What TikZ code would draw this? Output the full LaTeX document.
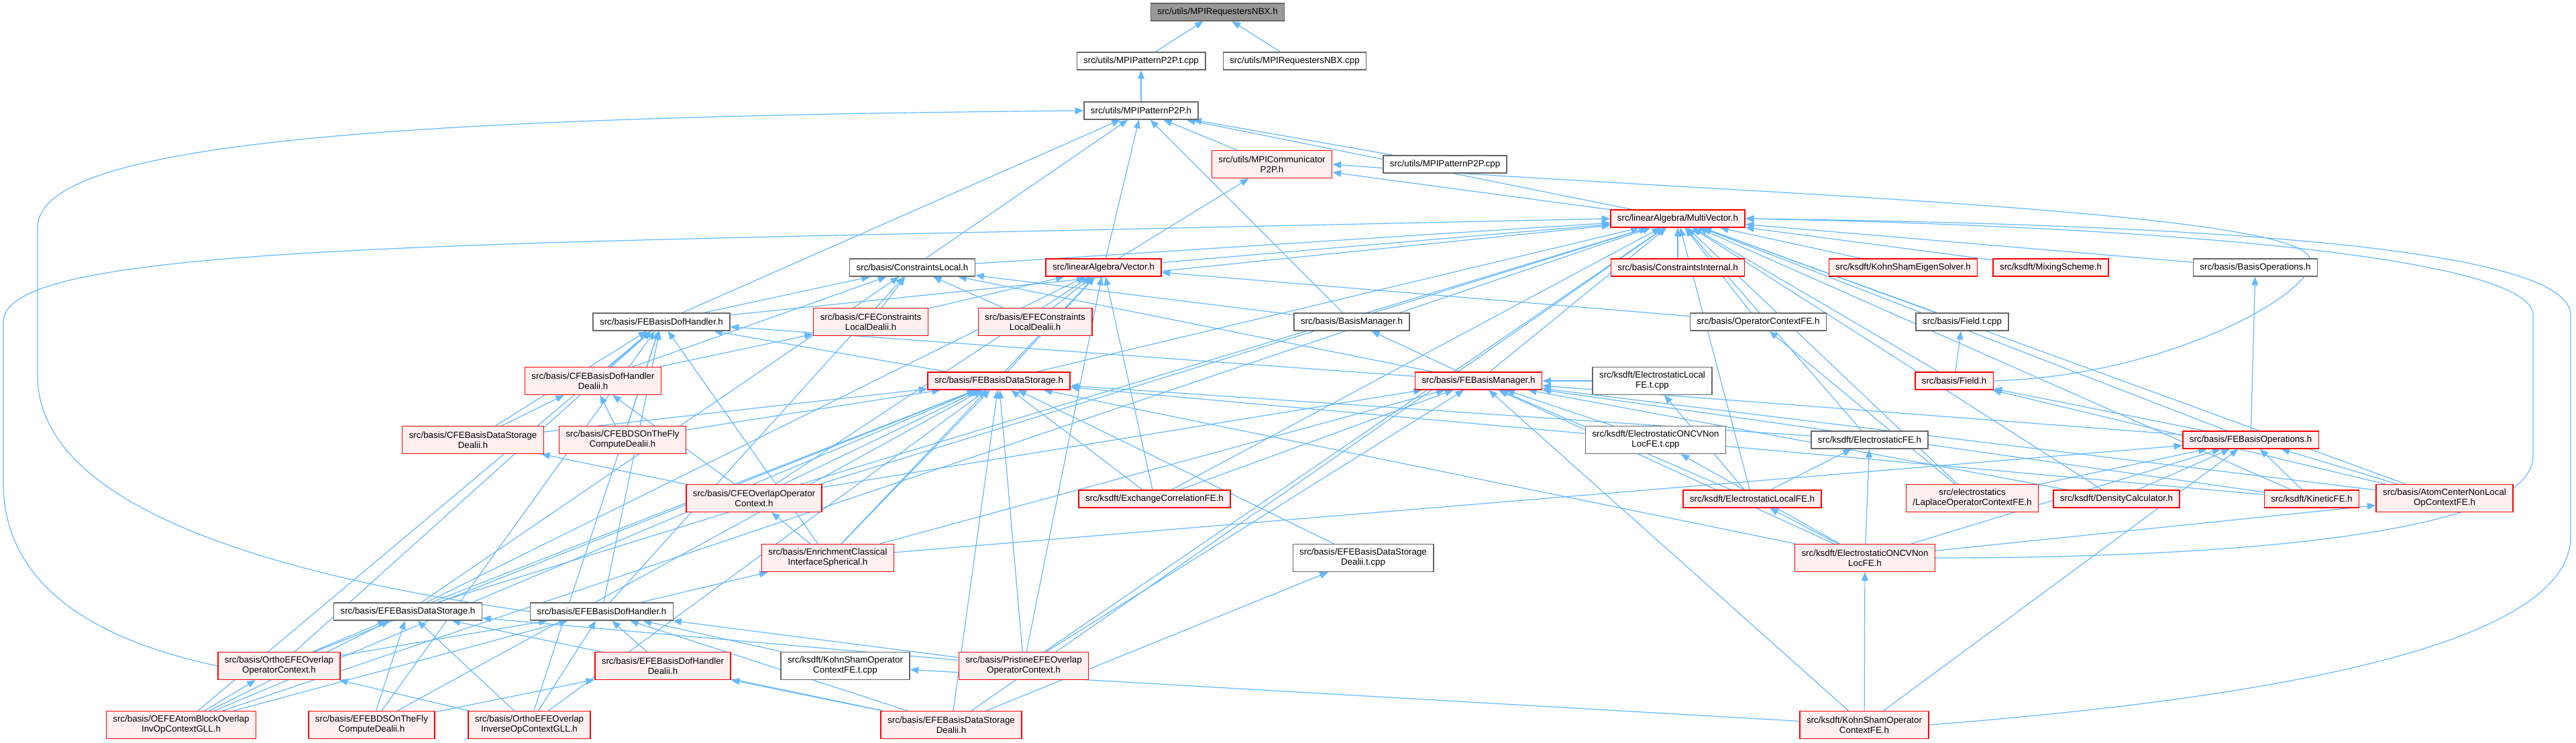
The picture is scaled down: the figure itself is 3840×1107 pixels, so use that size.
\documentclass[tikz,border=0pt]{standalone}
\usepackage{fontspec}
\newfontfamily\doxfont{Liberation Sans}
\usetikzlibrary{arrows.meta}

\definecolor{edgeblue}{HTML}{63B8FF}
\definecolor{nodegray}{HTML}{666666}
\definecolor{rootgray}{HTML}{999999}
\definecolor{truncfill}{HTML}{FFF0F0}

\pgfdeclarelayer{background}
\pgfsetlayers{background,main}

\begin{document}
\begin{tikzpicture}[
    x=0.75pt, y=-0.75pt,
    node font=\doxfont\fontsize{10}{11.25}\selectfont,
    >={Triangle[length=9.5pt,width=7.5pt]},
    file/.style={draw=nodegray, fill=white, line width=1pt, inner xsep=7.5pt, inner ysep=0pt, minimum height=19.5pt, align=center},
    root/.style={file, fill=rootgray},
    trunc/.style={file, draw=red, fill=truncfill},
    tall/.style={minimum height=30.75pt},
    inc/.style={->, draw=edgeblue, line width=0.9pt},
]
\useasboundingbox (0,0) rectangle (3840,1107);

% utils
\node[root] (nbx) at (1815,18) {src/utils/MPIRequestersNBX.h};
\node[file] (p2pt) at (1701,91) {src/utils/MPIPatternP2P.t.cpp};
\node[file] (nbxcpp) at (1930,91) {src/utils/MPIRequestersNBX.cpp};
\node[file] (p2p) at (1701,165) {src/utils/MPIPatternP2P.h};
\node[trunc, tall] (comm) at (1896,245) {src/utils/MPICommunicator\\P2P.h};
\node[file] (p2pcpp) at (2154,245) {src/utils/MPIPatternP2P.cpp};
\node[trunc] (mv) at (2501,326) {src/linearAlgebra/MultiVector.h};

% row of ConstraintsLocal
\node[file] (cl) at (1360,399) {src/basis/ConstraintsLocal.h};
\node[trunc] (vec) at (1645,399) {src/linearAlgebra/Vector.h};
\node[trunc] (ci) at (2501,399) {src/basis/ConstraintsInternal.h};
\node[trunc] (kses) at (2837,399) {src/ksdft/KohnShamEigenSolver.h};
\node[trunc] (mix) at (3057,399) {src/ksdft/MixingScheme.h};
\node[file] (bops) at (3362,399) {src/basis/BasisOperations.h};

% row of FEBasisDofHandler
\node[file] (dofh) at (986,480) {src/basis/FEBasisDofHandler.h};
\node[trunc, tall] (cfecl) at (1298,480) {src/basis/CFEConstraints\\LocalDealii.h};
\node[trunc, tall] (efecl) at (1543,480) {src/basis/EFEConstraints\\LocalDealii.h};
\node[file] (bm) at (2015,480) {src/basis/BasisManager.h};
\node[file] (opctx) at (2621,480) {src/basis/OperatorContextFE.h};
\node[file] (fieldt) at (2925,480) {src/basis/Field.t.cpp};

% row of FEBasisDataStorage
\node[trunc, tall] (cfedofh) at (884,568) {src/basis/CFEBasisDofHandler\\Dealii.h};
\node[trunc] (ds) at (1489,568) {src/basis/FEBasisDataStorage.h};
\node[trunc] (febm) at (2204,568) {src/basis/FEBasisManager.h};
\node[file, tall] (eslt) at (2463,568) {src/ksdft/ElectrostaticLocal\\FE.t.cpp};
\node[trunc] (field) at (2913,568) {src/basis/Field.h};

% row of FEBasisOperations
\node[trunc, tall] (cfeds) at (705,656) {src/basis/CFEBasisDataStorage\\Dealii.h};
\node[trunc, tall] (cfebds) at (928,656) {src/basis/CFEBDSOnTheFly\\ComputeDealii.h};
\node[file, tall] (oncvt) at (2468,656) {src/ksdft/ElectrostaticONCVNon\\LocFE.t.cpp};
\node[file] (es) at (2787,656) {src/ksdft/ElectrostaticFE.h};
\node[trunc] (feops) at (3355,656) {src/basis/FEBasisOperations.h};

% row of operator contexts
\node[trunc, tall] (cfeov) at (1124,743) {src/basis/CFEOverlapOperator\\Context.h};
\node[trunc] (xc) at (1721,744) {src/ksdft/ExchangeCorrelationFE.h};
\node[trunc] (esl) at (2612,744) {src/ksdft/ElectrostaticLocalFE.h};
\node[trunc, tall] (lap) at (2940,743) {src/electrostatics\\/LaplaceOperatorContextFE.h};
\node[trunc] (dens) at (3155,744) {src/ksdft/DensityCalculator.h};
\node[trunc] (kin) at (3446,744) {src/ksdft/KineticFE.h};
\node[trunc, tall] (acnl) at (3644,743) {src/basis/AtomCenterNonLocal\\OpContextFE.h};

% enrichment row
\node[trunc, tall] (ecis) at (1234,832) {src/basis/EnrichmentClassical\\InterfaceSpherical.h};
\node[file, tall] (efedst) at (2032,832) {src/basis/EFEBasisDataStorage\\Dealii.t.cpp};
\node[trunc, tall] (oncv) at (2780,832) {src/ksdft/ElectrostaticONCVNon\\LocFE.h};

% EFE rows
\node[file] (efeds) at (608,912) {src/basis/EFEBasisDataStorage.h};
\node[file] (efedofh) at (897,912) {src/basis/EFEBasisDofHandler.h};
\node[trunc, tall] (ooc) at (416,993) {src/basis/OrthoEFEOverlap\\OperatorContext.h};
\node[trunc, tall] (efedofhd) at (988,993) {src/basis/EFEBasisDofHandler\\Dealii.h};
\node[file, tall] (ksot) at (1260,993) {src/ksdft/KohnShamOperator\\ContextFE.t.cpp};
\node[trunc, tall] (peoc) at (1526,993) {src/basis/PristineEFEOverlap\\OperatorContext.h};
\node[trunc, tall] (oefe) at (270,1081) {src/basis/OEFEAtomBlockOverlap\\InvOpContextGLL.h};
\node[trunc, tall] (efebds) at (554,1081) {src/basis/EFEBDSOnTheFly\\ComputeDealii.h};
\node[trunc, tall] (ooic) at (789,1081) {src/basis/OrthoEFEOverlap\\InverseOpContextGLL.h};
\node[trunc, tall] (efedsd) at (1418,1081) {src/basis/EFEBasisDataStorage\\Dealii.h};
\node[trunc, tall] (kso) at (2779,1081) {src/ksdft/KohnShamOperator\\ContextFE.h};

\begin{pgfonlayer}{background}
% utils includes
\draw[inc] (p2pt) -- (nbx);
\draw[inc] (nbxcpp) -- (nbx);
\draw[inc] (p2p) -- (p2pt);
\foreach \c in {comm,p2pcpp,mv,vec,cl,dofh,bm} \draw[inc] (\c) -- (p2p);
\foreach \c in {mv,vec} \draw[inc] (\c) -- (comm);
\draw[inc] (efedofh.west) .. controls (420,860) and (56,760) .. (56,560) -- (56,340) .. controls (56,220) and (500,175) .. (p2p.west);
\draw[inc] (field.east) .. controls (3250,560) and (3480,420) .. (3440,380) .. controls (3380,310) and (2500,285) .. (comm.east);

% MultiVector
\foreach \c in {cl,vec,ci,kses,mix,bops,opctx,fieldt,field,es,feops,cfeov,xc,esl,lap,dens,kin,acnl,ds,febm,dofh,peoc,oefe,efedsd,efeds} \draw[inc] (\c) -- (mv);
\draw[inc] (ooc.west) .. controls (120,950) and (5,860) .. (5,720) -- (5,480) .. controls (5,390) and (400,370) .. (1200,352) -- (mv.west);
\draw[inc] (kso.east) .. controls (3400,1040) and (3832,960) .. (3832,800) -- (3832,470) .. controls (3832,370) and (3300,335) .. (mv.east);
\draw[inc] (oncv.east) .. controls (3300,832) and (3776,800) .. (3776,680) -- (3776,470) .. controls (3776,390) and (3300,340) .. (mv.east);

% basis headers
\foreach \c in {dofh,cfecl,efecl,bm,cfedofh,febm,efedofh,efeds} \draw[inc] (\c) -- (cl);
\foreach \c in {cfecl,efecl,opctx,cfeov,xc,ecis,peoc,ds,efeds} \draw[inc] (\c) -- (vec);
\foreach \c in {cfedofh,ds,febm,cfeds,cfebds,efedofh,ooc,oefe,efebds,ooic,ecis} \draw[inc] (\c) -- (dofh);
\draw[inc] (cfedofh) -- (cfecl);
\draw[inc] (febm) -- (bm);
\draw[inc] (field) -- (fieldt);
\foreach \c in {cfeds,cfebds,cfeov} \draw[inc] (\c) -- (cfedofh);
\foreach \c in {cfeds,cfebds,cfeov,xc,ecis,efeds,ooc,peoc,oefe,efebds,ooic,efedsd,es,oncv,efedst,kin} \draw[inc] (\c) -- (ds);
\foreach \c in {esl,cfeov,xc,dens,kin,acnl,kso,oncvt,feops,ecis,peoc,oncv,eslt} \draw[inc] (\c) -- (febm);
\draw[inc] (esl) -- (eslt);
\foreach \c in {feops,acnl} \draw[inc] (\c) -- (field);
\draw[inc] (oncv) -- (oncvt);
\foreach \c in {esl,oncv} \draw[inc] (\c) -- (es);
\draw[inc] (feops) -- (bops);
\foreach \c in {lap,dens,kin,acnl,ecis,oncv,kso} \draw[inc] (\c) -- (feops);
\draw[inc] (ecis) -- (cfeov);
\draw[inc] (cfeov) -- (cfeds);
\draw[inc] (lap) -- (opctx);
\draw[inc] (oncv) -- (esl);
\draw[inc] (oncv) -- (acnl);
\draw[inc] (efedofh) -- (ecis);
\draw[inc] (efedsd) -- (efedst);
\draw[inc] (kso) -- (oncv);

% EFE headers
\foreach \c in {ooc,oefe,efebds,ooic,peoc,efedsd} \draw[inc] (\c) -- (efeds);
\foreach \c in {ooc,efedofhd,ksot,peoc,oefe,ooic,efedsd} \draw[inc] (\c) -- (efedofh);
\foreach \c in {oefe,ooic} \draw[inc] (\c) -- (ooc);
\foreach \c in {efebds,efedsd} \draw[inc] (\c) -- (efedofhd);
\draw[inc] (kso) -- (ksot);
\end{pgfonlayer}

\end{tikzpicture}
\end{document}
